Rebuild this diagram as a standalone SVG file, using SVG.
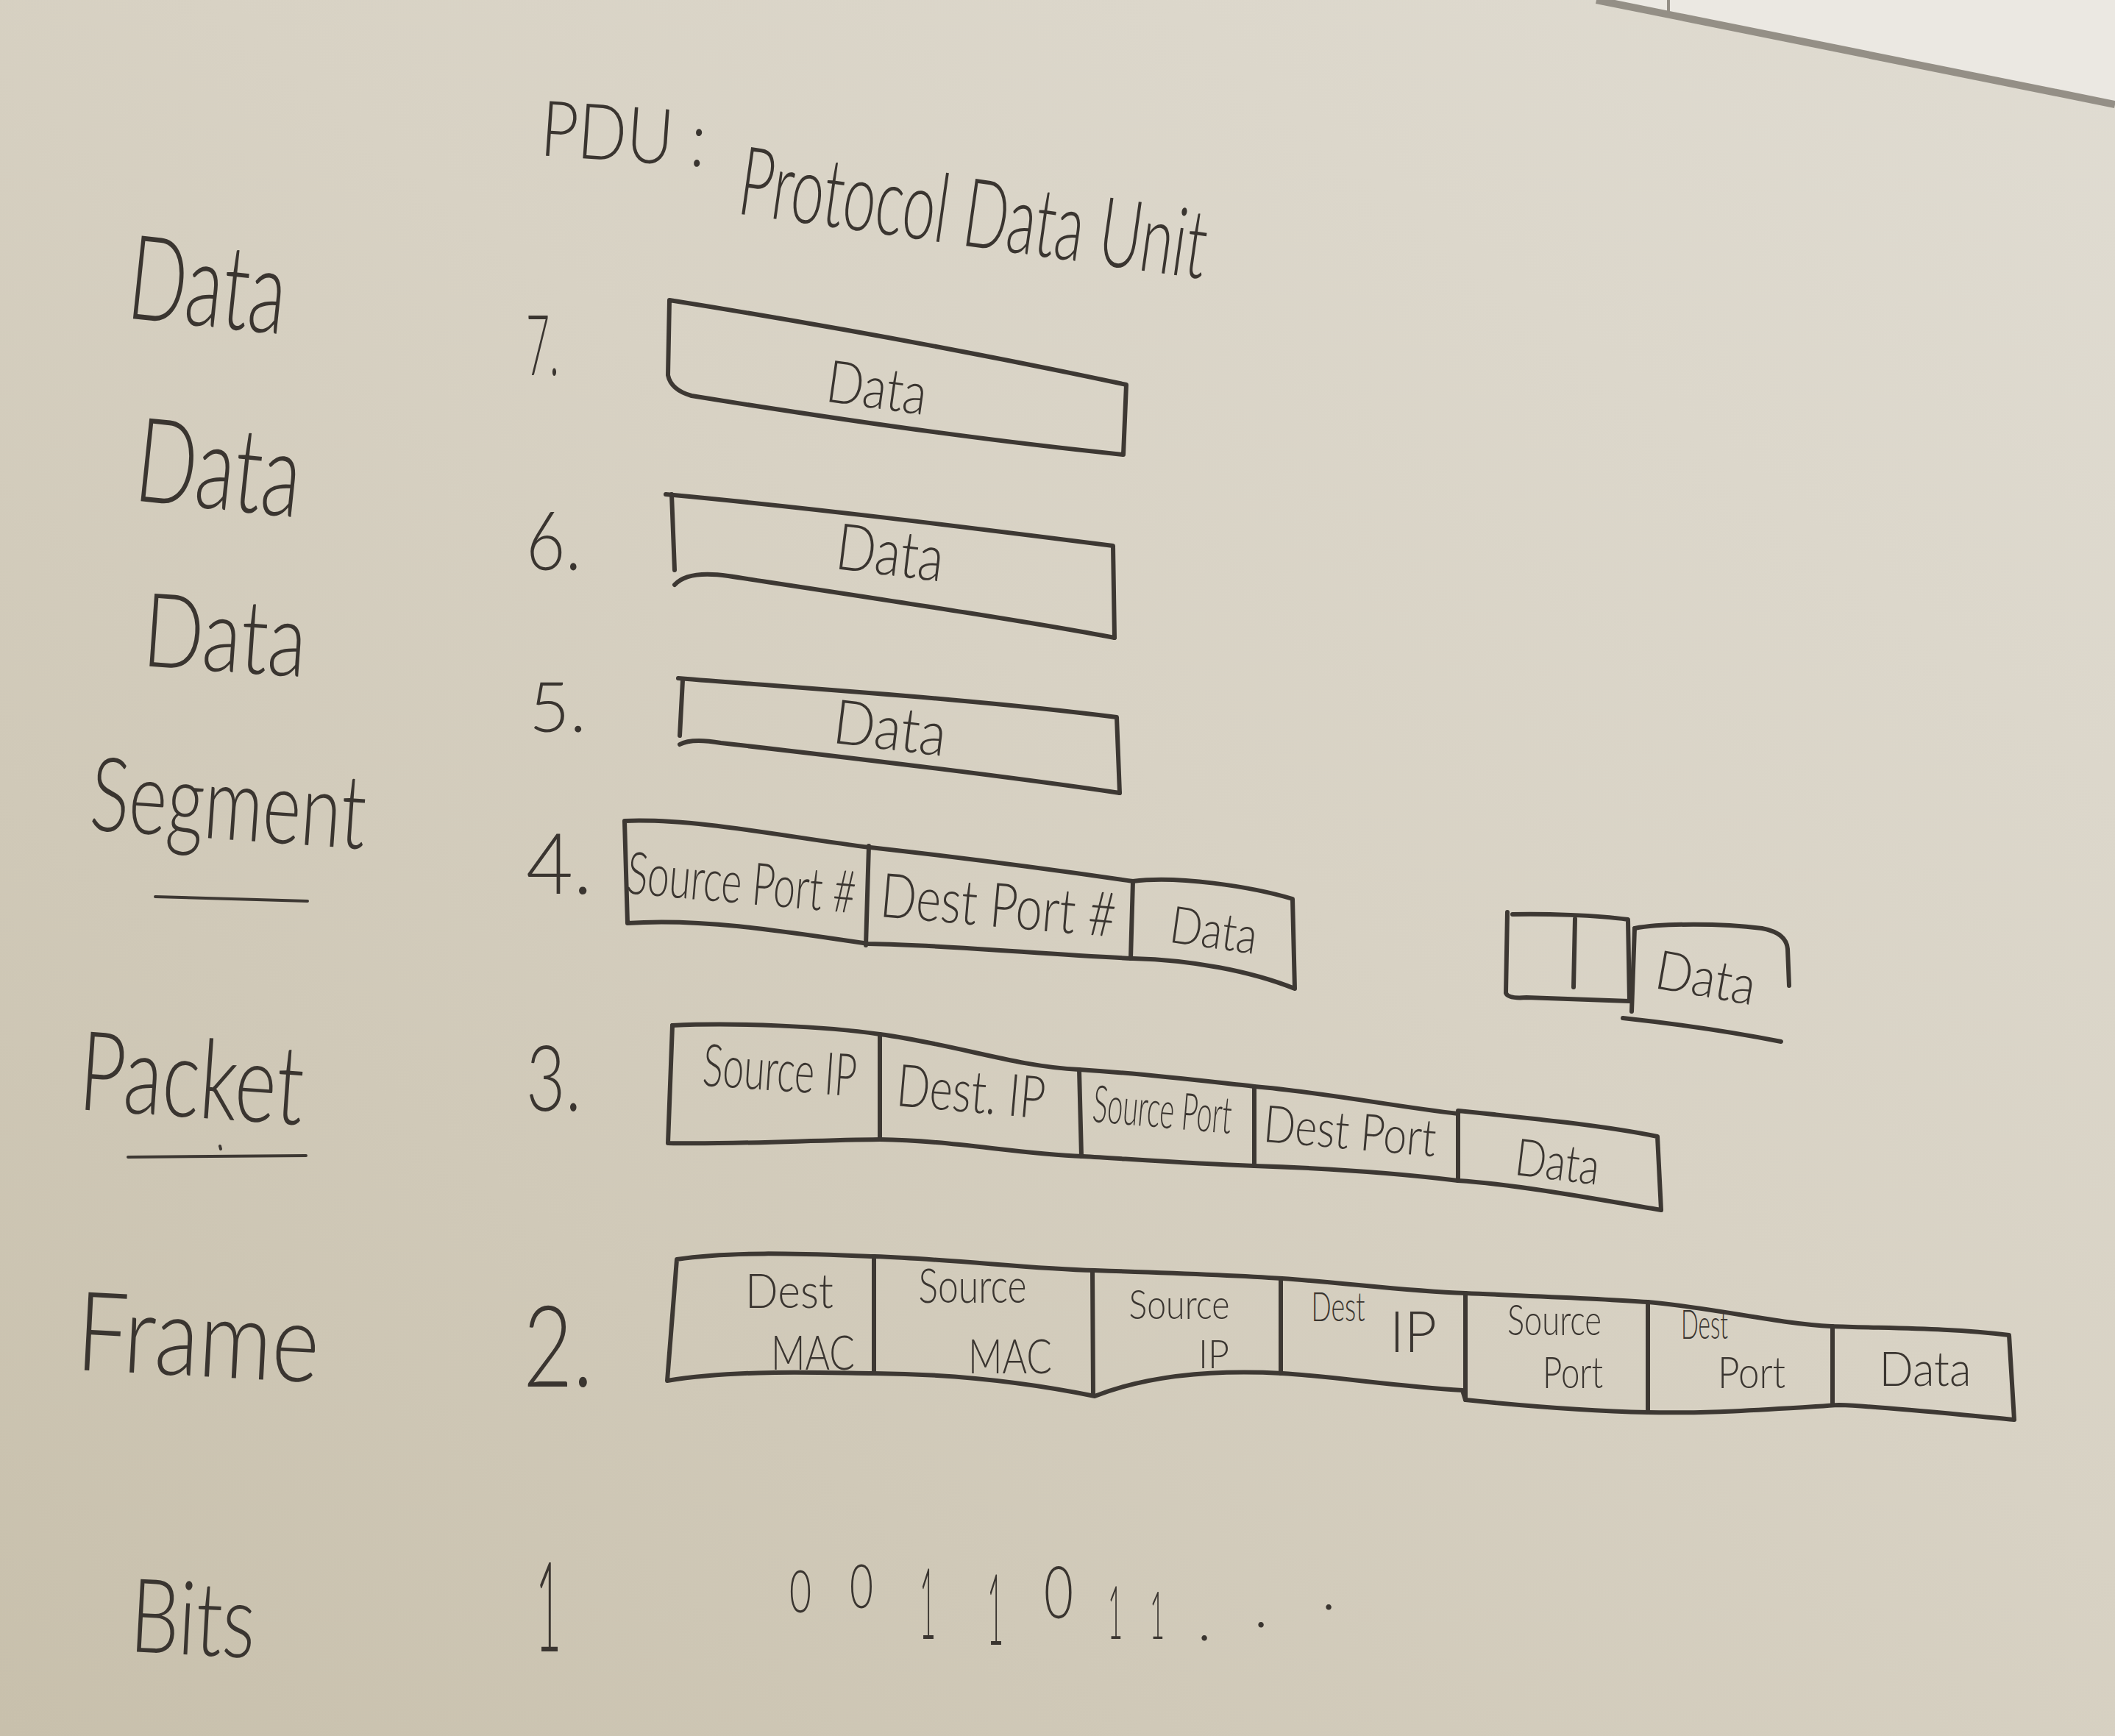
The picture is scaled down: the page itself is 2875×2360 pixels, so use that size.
<svg xmlns="http://www.w3.org/2000/svg" width="2875" height="2360" viewBox="0 0 2875 2360">
<defs>
<linearGradient id="bg" x1="1" y1="0" x2="0" y2="1">
<stop offset="0" stop-color="#e0dcd2"/>
<stop offset="0.45" stop-color="#d8d2c4"/>
<stop offset="1" stop-color="#c8c0ac"/>
</linearGradient>
<style>
.t{font-family:'Lato','Liberation Sans','DejaVu Sans',sans-serif;font-weight:300;fill:#3a3530;}
.m{text-anchor:middle;}
.b{fill:none;stroke:#3d3833;stroke-width:6;stroke-linecap:round;stroke-linejoin:round;}
.d{fill:none;stroke:#3d3833;stroke-width:4;stroke-linecap:round;}
</style>
</defs>
<rect x="0" y="0" width="2875" height="2360" fill="url(#bg)"/>
<polygon points="2170,0 2875,0 2875,140" fill="#ebe8e2"/>
<line x1="2170" y1="0" x2="2875" y2="142" stroke="#948f86" stroke-width="10"/>
<line x1="2268" y1="0" x2="2268" y2="22" stroke="#948f86" stroke-width="4"/>

<g id="title">
<text class="t" x="733" y="211" font-size="105" textLength="225" lengthAdjust="spacingAndGlyphs" transform="rotate(4 733 211)">PDU :</text>
<text class="t" x="1000" y="290" font-size="130" textLength="640" lengthAdjust="spacingAndGlyphs" transform="rotate(8 1000 290)">Protocol Data Unit</text>
</g>

<g id="labels">
<text class="t" x="170" y="432" font-size="160" textLength="215" lengthAdjust="spacingAndGlyphs" transform="rotate(6 170 432)">Data</text>
<text class="t" x="180" y="680" font-size="160" textLength="225" lengthAdjust="spacingAndGlyphs" transform="rotate(6 180 680)">Data</text>
<text class="t" x="192" y="905" font-size="140" textLength="222" lengthAdjust="spacingAndGlyphs" transform="rotate(4 192 905)">Data</text>
<text class="t" x="120" y="1128" font-size="140" textLength="375" lengthAdjust="spacingAndGlyphs" transform="rotate(4 120 1128)">Segment</text>
<line class="d" x1="211" y1="1219" x2="418" y2="1225"/>
<text class="t" x="105" y="1508" font-size="150" textLength="305" lengthAdjust="spacingAndGlyphs" transform="rotate(4 105 1508)">Packet</text>
<line class="d" x1="174" y1="1573" x2="416" y2="1571"/>
<line class="d" x1="299" y1="1558" x2="300" y2="1562"/>
<text class="t" x="102" y="1862" font-size="150" textLength="330" lengthAdjust="spacingAndGlyphs" transform="rotate(3 102 1862)">Frame</text>
<text class="t" x="175" y="2245" font-size="140" textLength="170" lengthAdjust="spacingAndGlyphs" transform="rotate(3 175 2245)">Bits</text>
</g>

<g id="numbers">
<text class="t" x="715" y="510" font-size="115" textLength="45" lengthAdjust="spacingAndGlyphs">7.</text>
<text class="t" x="715" y="775" font-size="110" textLength="75" lengthAdjust="spacingAndGlyphs">6.</text>
<text class="t" x="719" y="995" font-size="95" textLength="78" lengthAdjust="spacingAndGlyphs">5.</text>
<text class="t" x="715" y="1215" font-size="115" textLength="90" lengthAdjust="spacingAndGlyphs">4.</text>
<text class="t" x="715" y="1510" font-size="125" textLength="75" lengthAdjust="spacingAndGlyphs">3.</text>
<text class="t" x="711" y="1885" font-size="155" textLength="95" lengthAdjust="spacingAndGlyphs">2.</text>
<text class="t" x="728" y="2245" font-size="170" textLength="35" lengthAdjust="spacingAndGlyphs">1</text>
</g>

<g id="layer7">
<path class="b" d="M910,408 L908,510 Q912,530 940,538 C1150,572 1350,600 1527,618 L1531,523 C1320,478 1110,440 910,408"/>
<text class="t m" x="1192" y="555" font-size="80" textLength="137" lengthAdjust="spacingAndGlyphs" transform="rotate(8 1192 528)">Data</text>
</g>

<g id="layer6">
<path class="b" d="M913,672 L917,775"/>
<path class="b" d="M905,672 C1100,690 1300,715 1513,742 L1515,867"/>
<path class="b" d="M917,795 Q935,775 990,783 C1200,815 1400,845 1515,867"/>
<text class="t m" x="1210" y="782" font-size="88" textLength="147" lengthAdjust="spacingAndGlyphs" transform="rotate(7 1210 752)">Data</text>
</g>

<g id="layer5">
<path class="b" d="M928,925 L924,1000"/>
<path class="b" d="M922,922 C1120,938 1320,950 1518,975 L1522,1078"/>
<path class="b" d="M924,1012 Q940,1003 980,1010 C1200,1035 1400,1060 1522,1078"/>
<text class="t m" x="1210" y="1019" font-size="84" textLength="154" lengthAdjust="spacingAndGlyphs" transform="rotate(7 1210 990)">Data</text>
</g>

<g id="layer4">
<path class="b" d="M849,1116 C950,1112 1080,1140 1183,1152 C1300,1165 1450,1185 1540,1198 C1600,1190 1700,1205 1757,1222 L1760,1344 C1700,1320 1620,1305 1540,1303 C1420,1298 1300,1285 1180,1283 C1060,1265 950,1248 853,1255 Z"/>
<path class="b" d="M1181,1150 L1177,1285 M1540,1198 L1537,1303"/>
<text class="t m" x="1008" y="1228" font-size="80" textLength="312" lengthAdjust="spacingAndGlyphs" transform="rotate(5 1008 1201)">Source Port #</text>
<text class="t m" x="1357" y="1260" font-size="84" textLength="321" lengthAdjust="spacingAndGlyphs" transform="rotate(5 1357 1232)">Dest Port #</text>
<text class="t m" x="1650" y="1289" font-size="70" textLength="119" lengthAdjust="spacingAndGlyphs" transform="rotate(8 1650 1265)">Data</text>
</g>

<g id="segment-sketch">
<path class="b" d="M2049,1240 L2047,1350 Q2050,1358 2075,1356 L2215,1361 L2213,1250 C2170,1244 2100,1242 2056,1243"/>
<path class="b" d="M2141,1249 L2139,1342"/>
<path class="b" d="M2222,1262 L2218,1375"/>
<path class="b" d="M2222,1262 C2260,1255 2340,1255 2395,1262 Q2428,1268 2430,1290 L2432,1340"/>
<path class="b" d="M2206,1384 C2280,1392 2360,1404 2421,1416"/>
<text class="t m" x="2319" y="1355" font-size="74" textLength="137" lengthAdjust="spacingAndGlyphs" transform="rotate(10 2319 1329)">Data</text>
</g>

<g id="layer3">
<path class="b" d="M914,1394 C1000,1390 1120,1395 1196,1406 C1300,1420 1380,1450 1467,1454 C1560,1460 1640,1470 1705,1477 C1800,1485 1900,1505 1982,1514"/>
<path class="b" d="M1982,1605 C1900,1595 1800,1588 1705,1585 C1620,1582 1540,1576 1472,1572 C1380,1568 1290,1550 1196,1549 C1100,1550 1000,1556 908,1554 L914,1394"/>
<path class="b" d="M1982,1510 C2080,1520 2180,1530 2253,1545 L2258,1645 C2170,1630 2060,1610 1982,1605 L1982,1512"/>
<path class="b" d="M1196,1406 L1196,1549 M1467,1454 L1470,1572 M1705,1477 L1705,1585"/>
<text class="t m" x="1060" y="1483" font-size="80" textLength="209" lengthAdjust="spacingAndGlyphs" transform="rotate(4 1060 1456)">Source IP</text>
<text class="t m" x="1320" y="1512" font-size="80" textLength="202" lengthAdjust="spacingAndGlyphs" transform="rotate(5 1320 1485)">Dest. IP</text>
<text class="t m" x="1580" y="1533" font-size="70" textLength="189" lengthAdjust="spacingAndGlyphs" transform="rotate(5 1580 1510)">Source Port</text>
<text class="t m" x="1835" y="1562" font-size="70" textLength="235" lengthAdjust="spacingAndGlyphs" transform="rotate(5 1835 1539)">Dest Port</text>
<text class="t m" x="2117" y="1604" font-size="70" textLength="115" lengthAdjust="spacingAndGlyphs" transform="rotate(7 2117 1581)">Data</text>
</g>

<g id="layer2">
<path class="b" d="M920,1712 C1000,1700 1100,1705 1188,1708 C1300,1712 1400,1725 1488,1727 C1580,1730 1670,1733 1743,1738 C1830,1744 1910,1755 1992,1758 C2080,1762 2170,1765 2240,1770 C2330,1778 2420,1800 2489,1803 C2570,1806 2650,1805 2731,1815 L2738,1930 C2650,1922 2560,1912 2500,1910 C2420,1915 2330,1922 2240,1920 C2150,1918 2060,1910 1992,1903 L1988,1890 C1900,1885 1820,1872 1743,1867 C1650,1862 1560,1870 1488,1898 C1400,1880 1300,1868 1188,1867 C1100,1866 1000,1862 907,1877 Z"/>
<path class="b" d="M1188,1708 L1188,1867 M1485,1727 L1486,1896 M1741,1738 L1741,1867 M1992,1758 L1992,1903 M2240,1770 L2240,1920 M2491,1803 L2491,1908"/>
<text class="t m" x="1073" y="1778" font-size="66" textLength="120" lengthAdjust="spacingAndGlyphs">Dest</text>
<text class="t m" x="1105" y="1862" font-size="66" textLength="114" lengthAdjust="spacingAndGlyphs">MAC</text>
<text class="t m" x="1322" y="1771" font-size="66" textLength="147" lengthAdjust="spacingAndGlyphs">Source</text>
<text class="t m" x="1373" y="1867" font-size="66" textLength="114" lengthAdjust="spacingAndGlyphs">MAC</text>
<text class="t m" x="1603" y="1793" font-size="56" textLength="137" lengthAdjust="spacingAndGlyphs">Source</text>
<text class="t m" x="1650" y="1860" font-size="54" textLength="42" lengthAdjust="spacingAndGlyphs">IP</text>
<text class="t m" x="1819" y="1796" font-size="55" textLength="73" lengthAdjust="spacingAndGlyphs">Dest</text>
<text class="t m" x="1921" y="1838" font-size="76" textLength="64" lengthAdjust="spacingAndGlyphs">IP</text>
<text class="t m" x="2113" y="1815" font-size="58" textLength="128" lengthAdjust="spacingAndGlyphs">Source</text>
<text class="t m" x="2138" y="1887" font-size="60" textLength="82" lengthAdjust="spacingAndGlyphs">Port</text>
<text class="t m" x="2317" y="1820" font-size="55" textLength="64" lengthAdjust="spacingAndGlyphs">Dest</text>
<text class="t m" x="2381" y="1887" font-size="60" textLength="92" lengthAdjust="spacingAndGlyphs">Port</text>
<text class="t m" x="2617" y="1884" font-size="66" textLength="125" lengthAdjust="spacingAndGlyphs">Data</text>
</g>

<g id="layer1">
<text class="t m" x="1088" y="2192" font-size="80" textLength="30" lengthAdjust="spacingAndGlyphs">0</text>
<text class="t m" x="1171" y="2186" font-size="82" textLength="32" lengthAdjust="spacingAndGlyphs">0</text>
<text class="t m" x="1261" y="2228" font-size="135" textLength="22" lengthAdjust="spacingAndGlyphs">1</text>
<text class="t m" x="1353" y="2236" font-size="135" textLength="22" lengthAdjust="spacingAndGlyphs">1</text>
<text class="t m" x="1439" y="2200" font-size="98" textLength="40" lengthAdjust="spacingAndGlyphs">0</text>
<text class="t m" x="1516" y="2228" font-size="100" textLength="20" lengthAdjust="spacingAndGlyphs">1</text>
<text class="t m" x="1573" y="2228" font-size="90" textLength="20" lengthAdjust="spacingAndGlyphs">1</text>
<text class="t m" x="1637" y="2230" font-size="80">.</text>
<text class="t m" x="1714" y="2212" font-size="80">.</text>
<text class="t m" x="1806" y="2188" font-size="80">.</text>
</g>

<g id="connectors"/>
</svg>
